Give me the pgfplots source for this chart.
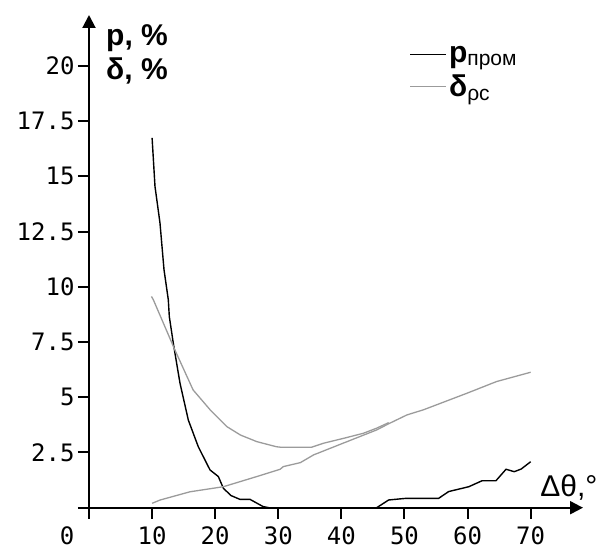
\documentclass[border=0pt]{standalone}
\usepackage{pgfplots}
\pgfplotsset{compat=1.18}
\usepackage{fontspec}
\setmainfont{Liberation Sans}
\newfontfamily\monofont{DejaVu Sans Mono}
\usetikzlibrary{arrows.meta}
\definecolor{lgray}{RGB}{155,155,155}
\begin{document}
\begin{tikzpicture}[x=1pt,y=1pt]
\path[use as bounding box] (-89,-41.3) rectangle (510,507.7);
\begin{axis}[
  at={(0pt,0pt)}, anchor=origin,
  scale only axis, width=494pt, height=492.7pt,
  xmin=0, xmax=78.3, ymin=0, ymax=22.3,
  axis lines=left, clip=false,
  axis line style={line width=2pt, -{Triangle[length=13pt,width=13pt]}},
  tick align=outside, major tick length=11pt,
  tick style={line width=2pt, black},
  xtick={10,20,30,40,50,60,70},
  xticklabels={10,20,30,40,50,60,70},
  extra x ticks={0}, extra x tick labels={0},
  extra x tick style={xticklabel style={xshift=-22pt}},
  ytick={0,2.5,5,7.5,10,12.5,15,17.5,20},
  yticklabels={,2.5,5,7.5,10,12.5,15,17.5,20},
  tick label style={font=\monofont\fontsize{24}{24}\selectfont},
  xticklabel style={yshift=-4pt},
  legend style={at={(axis cs:50.8,21.0)}, anchor=north west, draw=none, fill=none,
    font=\fontsize{30}{30}\selectfont, row sep=7pt, inner sep=0pt},
  legend cell align=left,
  legend image code/.code={\draw[#1] (0pt,0pt) -- (36pt,0pt);},
]
\addplot[black, line width=1.4pt] coordinates {
(10,16.74) (10.46,14.54) (11.25,12.89) (11.89,10.77) (12.57,9.41) (12.73,8.65)
(13.36,7.45) (14.42,5.64) (15.74,3.97) (17.32,2.76) (19.18,1.71) (20.5,1.41)
(21.3,0.88) (22.5,0.55) (23.9,0.38) (25.5,0.38) (27.6,0.05)
(28.5,0) (45.6,0) (47.5,0.35) (50.1,0.42) (55.4,0.42) (57.0,0.73)
(60.2,0.95) (62.3,1.22) (64.5,1.22) (66.1,1.74) (67.4,1.63) (68.5,1.75) (70,2.08)};
\addlegendentry{\textbf{p}\textsubscript{пром}}
\addplot[lgray, line width=1.3pt] coordinates {
(9.9,9.56) (10.2,9.41) (13.6,7.15) (16.5,5.33) (19.2,4.43) (21.85,3.67)
(24,3.29) (26.6,2.99) (29.7,2.76) (30.3,2.74) (33.5,2.74) (35.3,2.74)
(37.2,2.92) (40.5,3.15) (43.5,3.37) (45.6,3.6) (47.5,3.85)};
\addlegendentry{\textbf{δ}\textsubscript{ρc}}
\addplot[lgray, line width=1.3pt, forget plot] coordinates {
(10,0.2) (11.3,0.35) (16,0.72) (21.3,0.95) (26.6,1.41) (30.3,1.74) (30.8,1.86)
(33.5,2.04) (35.6,2.39) (40.9,2.99) (45.6,3.52) (47.5,3.8) (50.4,4.2) (53,4.43)
(59.9,5.18) (64.6,5.71) (70,6.13)};
\node[anchor=base west, font=\bfseries\fontsize{30}{30}\selectfont, inner sep=0pt] at (axis cs:2.7,20.9) {p, \%};
\node[anchor=base west, font=\bfseries\fontsize{30}{30}\selectfont, inner sep=0pt] at (axis cs:2.7,19.4) {δ, \%};
\node[anchor=base west, font=\fontsize{30}{30}\selectfont, inner sep=0pt] at (axis cs:71.5,0.5) {Δθ,°};
\end{axis}
\end{tikzpicture}
\end{document}
